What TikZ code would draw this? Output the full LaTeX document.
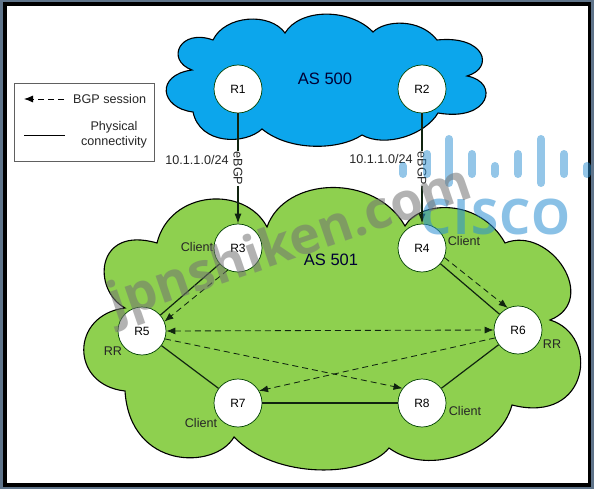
\documentclass[tikz,border=0pt]{standalone}
\usepackage{fontspec}
\setmainfont{Liberation Sans}
\newfontfamily\wmfont{Open Sans}
\newfontfamily\ciscofont[LetterSpace=3]{Open Sans}
\usetikzlibrary{arrows.meta}
\definecolor{slate}{HTML}{5F748A}
\definecolor{asblue}{HTML}{0CA6EC}
\definecolor{asgreen}{HTML}{8ED04F}
\definecolor{inkline}{HTML}{10240F}
\definecolor{wmblue}{HTML}{2B8FD2}
\tikzset{
  router/.style={circle,draw=black!75!green,fill=white,line width=.7pt,minimum size=48pt,inner sep=0pt,font=\fontsize{12}{14}\selectfont},
  cloudshape/.style={draw=black,line width=1.1pt},
  phys/.style={draw=inkline,line width=1.2pt},
  session/.style={draw=inkline,line width=.85pt,dash pattern=on 6pt off 4pt,-{Latex[length=9pt,width=7pt]}},
  sessionboth/.style={draw=inkline,line width=.85pt,dash pattern=on 6pt off 4pt,{Latex[length=9pt,width=7pt]}-{Latex[length=9pt,width=7pt]}},
  ebgp/.style={draw=inkline,line width=1.1pt,-{Latex[length=10pt,width=7pt]}},
  lbl/.style={inner sep=0pt,text=black!85,font=\fontsize{12.6}{15}\selectfont},
  aslbl/.style={inner sep=0pt,text=black!80!blue,font=\fontsize{16.5}{20}\selectfont},
  wmbar/.style={line cap=round,line width=8pt,draw=wmblue,opacity=.5}
}
\begin{document}
\begin{tikzpicture}[x=1pt,y=-1pt]
\useasboundingbox (0,0) rectangle (594,489);
\fill[slate] (0,0) rectangle (594,489);
\fill[black] (3,2) rectangle (591,487);
\fill[white] (7,6) rectangle (588,483);
% clouds
\draw[cloudshape,fill=asblue] (192,70)
 .. controls (165,60) and (180,28) .. (213,40)
 .. controls (225,15) and (270,12) .. (285,33)
 .. controls (300,8) and (350,8) .. (373,32)
 .. controls (385,20) and (420,18) .. (437,40)
 .. controls (485,35) and (495,68) .. (467,76)
 .. controls (500,82) and (490,122) .. (438,113)
 .. controls (425,135) and (385,148) .. (362,135)
 .. controls (340,150) and (290,152) .. (262,129)
 .. controls (245,145) and (200,145) .. (193,112)
 .. controls (160,108) and (155,75) .. (192,70) -- cycle;
\draw[cloudshape,fill=asgreen] (157,243)
 .. controls (170,190) and (245,185) .. (267,227)
 .. controls (285,176) and (375,173) .. (405,226)
 .. controls (420,200) and (480,198) .. (505,243)
 .. controls (550,225) and (600,300) .. (550,320)
 .. controls (600,335) and (590,425) .. (512,405)
 .. controls (500,450) and (430,478) .. (389,448)
 .. controls (365,478) and (275,480) .. (234,437)
 .. controls (215,470) and (130,470) .. (125,391)
 .. controls (70,385) and (70,315) .. (125,308)
 .. controls (92,290) and (95,225) .. (157,243) -- cycle;
% routers
\node[router] (R1) at (238,89) {R1};
\node[router] (R2) at (422,89) {R2};
\node[router] (R3) at (238,248) {R3};
\node[router] (R4) at (422,248) {R4};
\node[router] (R5) at (142,331) {R5};
\node[router] (R6) at (518,330) {R6};
\node[router] (R7) at (238,403) {R7};
\node[router] (R8) at (422,403) {R8};
% physical
\draw[phys] (R3) -- (R5);
\draw[phys] (R4) -- (R6);
\draw[phys] (R5) -- (R7);
\draw[phys] (R6) -- (R8);
\draw[phys] (R7) -- (R8);
% sessions
\draw[session] (R3.245) -- (R5.23);
\draw[session] (R4.-23) -- (R6.115);
\draw[sessionboth] (R5.east) -- (R6.west);
\draw[session] (R5.-19) -- (R8.143);
\draw[session] (R6.199) -- (R7.30);
% eBGP
\draw[ebgp] (R1) -- (R3) node[pos=.5,fill=white,inner sep=1pt,rotate=-90,font=\fontsize{12.6}{15}\selectfont,text=black!85] (eb1) {eBGP};
\draw[ebgp] (R2) -- (R4) node[pos=.5,fill=white,inner sep=1pt,rotate=-90,font=\fontsize{12.6}{15}\selectfont,text=black!85] (eb2) {eBGP};
% labels
\node[lbl] (n1) at (197,160) {10.1.1.0/24};
\node[lbl] (n2) at (381,159) {10.1.1.0/24};
\node[aslbl] (as500) at (325,79) {AS 500};
\node[aslbl] (as501) at (331,260) {AS 501};
\node[lbl] (c3) at (197,247) {Client};
\node[lbl] (c4) at (464,241) {Client};
\node[lbl] (c7) at (201,423) {Client};
\node[lbl] (c8) at (465,411) {Client};
\node[lbl] (rr5) at (113,351) {RR};
\node[lbl] (rr6) at (552,344) {RR};
% legend
\draw[gray!75!black,line width=.8pt] (14,83) rectangle (154,161);
\coordinate (la) at (24,99); \coordinate (lb) at (64,99);
\coordinate (lc) at (24,136); \coordinate (ld) at (65,136);
\draw[draw=black,line width=.85pt,dash pattern=on 6pt off 4pt,-{Latex[length=9pt,width=7pt]}] (lb) -- (la);
\draw[draw=black,line width=1pt] (lc) -- (ld);
\node[lbl,anchor=west] (lg1) at (73,99) {BGP session};
\node[lbl,align=center] (lg2) at (114,135) {Physical\\connectivity};
% watermarks
\foreach \bx/\a/\b in {403/166/174,427/154/174,449/139/183,472/154/174,495/166/174,518/154/174,541/139/183,564/154/174,587/166/174}
  \draw[wmbar] (\bx,\a) -- (\bx,\b);
\node[inner sep=0pt,text=wmblue,opacity=.55,font=\ciscofont\bfseries\fontsize{49}{49}\selectfont] (wmcisco) at (495.5,217) {CISCO};
\node[inner sep=0pt,text=black!55,opacity=.55,rotate=19,font=\wmfont\bfseries\fontsize{52}{52}\selectfont] (wmjpn) at (291,246) {jpnshiken.com};
\end{tikzpicture}
\end{document}
